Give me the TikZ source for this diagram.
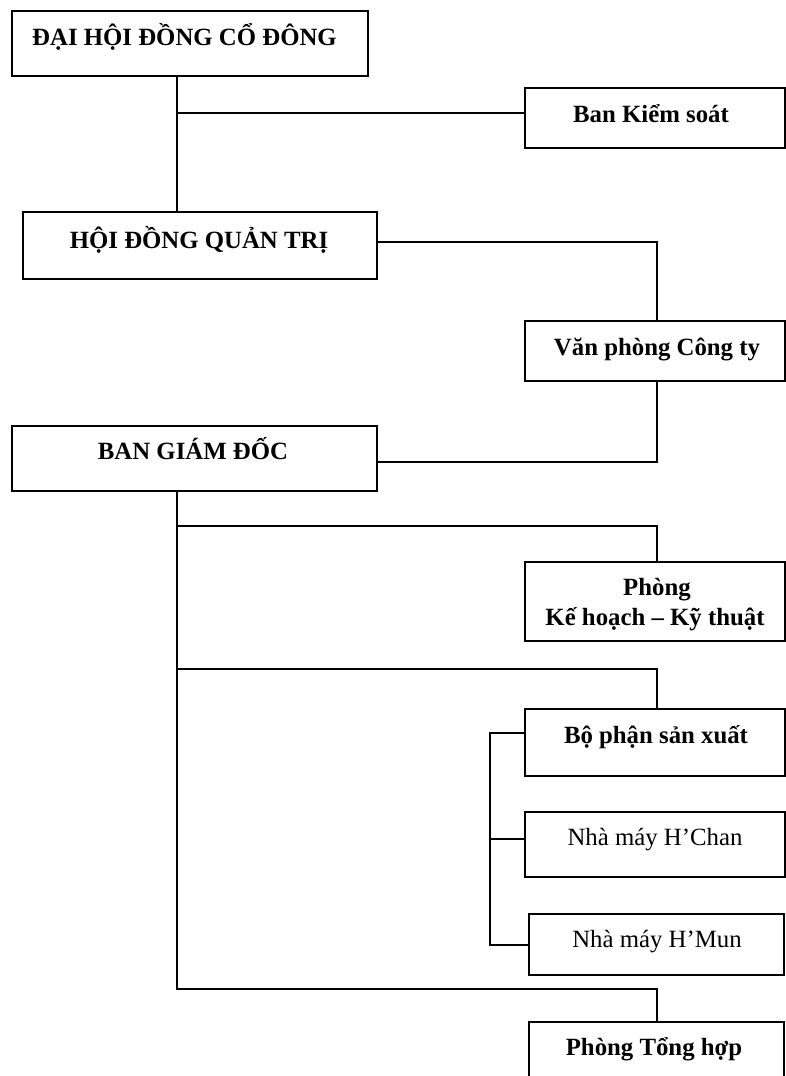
\documentclass[tikz,border=0pt]{standalone}
\usepackage{fontspec}
\setmainfont{Liberation Serif}
\begin{document}
\begin{tikzpicture}[x=1pt,y=-1pt,
  box/.style={draw,line width=1.6pt,rectangle,inner sep=0pt},
  link/.style={line width=1.5pt},
  bt/.style={anchor=base,inner sep=0pt,font=\fontsize{24.8}{30}\selectfont\bfseries},
  rt/.style={anchor=base,inner sep=0pt,font=\fontsize{24.8}{30}\selectfont}]
\useasboundingbox (0,0) rectangle (786,1076);
% boxes
\node[box,minimum width=356pt,minimum height=65pt] (dh) at (190,43.5) {};
\node[box,minimum width=260pt,minimum height=60pt] (bks) at (655,118) {};
\node[box,minimum width=354pt,minimum height=67pt] (hd) at (200,245.5) {};
\node[box,minimum width=260pt,minimum height=60pt] (vp) at (655,351) {};
\node[box,minimum width=365pt,minimum height=65pt] (bgd) at (194.5,458.5) {};
\node[box,minimum width=260pt,minimum height=79pt] (khkt) at (655,601.5) {};
\node[box,minimum width=260pt,minimum height=67pt] (bpsx) at (655,742.5) {};
\node[box,minimum width=260pt,minimum height=65pt] (hc) at (655,844.5) {};
\node[box,minimum width=255pt,minimum height=61pt] (hm) at (656.5,944.5) {};
\node[box,minimum width=255pt,minimum height=78pt] (pth) at (656.5,1061) {};
% texts
\node[bt] (tdh) at (184.5,45) {ĐẠI HỘI ĐỒNG CỔ ĐÔNG};
\node[bt] (tbks) at (651,122) {Ban Kiểm soát};
\node[bt] (thd) at (199,248) {HỘI ĐỒNG QUẢN TRỊ};
\node[bt] (tvp) at (657,355) {Văn phòng Công ty};
\node[bt] (tbgd) at (193,459) {BAN GIÁM ĐỐC};
\node[bt] (tkh1) at (657,595) {Phòng};
\node[bt] (tkh2) at (655,625) {Kế hoạch – Kỹ thuật};
\node[bt] (tbpsx) at (656,743) {Bộ phận sản xuất};
\node[rt] (thc) at (655,845) {Nhà máy H’Chan};
\node[rt] (thm) at (657,947) {Nhà máy H’Mun};
\node[bt] (tpth) at (654,1055) {Phòng Tổng hợp};
% junctions
\coordinate (j1) at (177,113);
\coordinate (j2) at (657,242);
\coordinate (j3) at (657,462);
\coordinate (j4) at (177,526);
\coordinate (j5) at (657,526);
\coordinate (j6) at (177,669);
\coordinate (j7) at (657,669);
\coordinate (j8) at (177,989);
\coordinate (j9) at (657,989);
\coordinate (t1) at (490,733);
\coordinate (t2) at (490,839);
\coordinate (t3) at (490,945);
% connectors
\draw[link] (dh.south -| j1) -- (hd.north -| j1);
\draw[link] (j1) -- (j1 -| bks.west);
\draw[link] (j2 -| hd.east) -- (j2) -- (vp.north -| j2);
\draw[link] (vp.south -| j3) -- (j3) -- (j3 -| bgd.east);
\draw[link] (bgd.south -| j4) -- (j8) -- (j9) -- (pth.north -| j9);
\draw[link] (j4) -- (j5) -- (khkt.north -| j5);
\draw[link] (j6) -- (j7) -- (bpsx.north -| j7);
\draw[link] (t1 -| bpsx.west) -- (t1) -- (t3) -- (t3 -| hm.west);
\draw[link] (t2) -- (t2 -| hc.west);
\end{tikzpicture}
\end{document}
